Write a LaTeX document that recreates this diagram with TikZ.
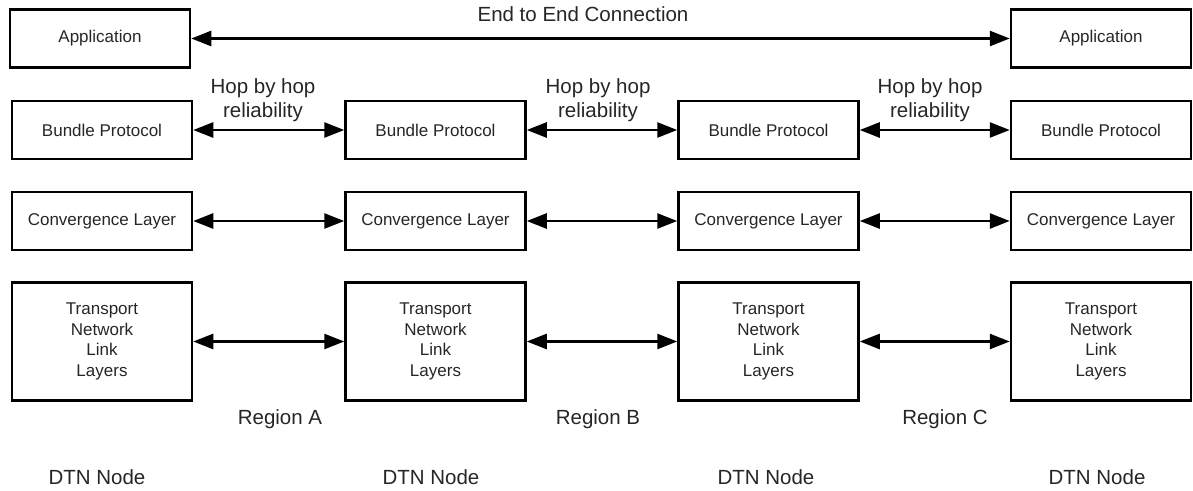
\documentclass[tikz,border=0pt]{standalone}
\usepackage{fontspec}
\setmainfont{Liberation Sans}
\usetikzlibrary{arrows.meta}
\begin{document}
\begin{tikzpicture}[x=1pt,y=-1pt,
  layer/.style={draw, line width=2.5pt, minimum width=180pt, minimum height=58pt,
    inner sep=0pt, align=center, font=\fontsize{17}{20.7}\selectfont, text=black!85},
  tall/.style={layer, minimum height=118pt},
  link/.style={line width=2.5pt,
    {Triangle[length=20pt,width=15pt]}-{Triangle[length=20pt,width=15pt]}},
  lbl/.style={font=\fontsize{20.5}{24}\selectfont, align=center, text=black!85, inner sep=0pt}]
\useasboundingbox (0,0) rectangle (1193,490);

% protocol stacks, one column per DTN node
\foreach \c/\x in {1/102, 2/435.5, 3/768.5, 4/1101}{
  \node[layer] (bp\c) at (\x,130) {Bundle Protocol};
  \node[layer] (cl\c) at (\x,221) {Convergence Layer};
  \node[tall]  (tl\c) at (\x,341.5) {Transport\\Network\\Link\\Layers};
}
\node[layer] (app1) at (100,38.5) {Application};
\node[layer] (app4) at (1101,38.5) {Application};

% end to end connection between the applications
\draw[link] (app1) -- (app4);
\node[lbl, anchor=base] (e2e) at (583,21) {End to End Connection};

% hop by hop links between neighbouring nodes
\foreach \a/\b in {1/2, 2/3, 3/4}{
  \draw[link] (bp\a) -- (bp\b);
  \draw[link] (cl\a) -- (cl\b);
  \draw[link] (tl\a) -- (tl\b);
}
\node[lbl, anchor=north] (hop1) at (263,78.5) {Hop by hop\\reliability};
\node[lbl, anchor=north] (hop2) at (598,78.5) {Hop by hop\\reliability};
\node[lbl, anchor=north] (hop3) at (930,78.5) {Hop by hop\\reliability};

% regions and node captions
\node[lbl, anchor=base] (regA) at (280,424) {Region A};
\node[lbl, anchor=base] (regB) at (598,424) {Region B};
\node[lbl, anchor=base] (regC) at (945,424) {Region C};
\foreach \c/\x in {1/97, 2/431, 3/766, 4/1097}{
  \node[lbl, anchor=base] (dtn\c) at (\x,484) {DTN Node};
}
\end{tikzpicture}
\end{document}
